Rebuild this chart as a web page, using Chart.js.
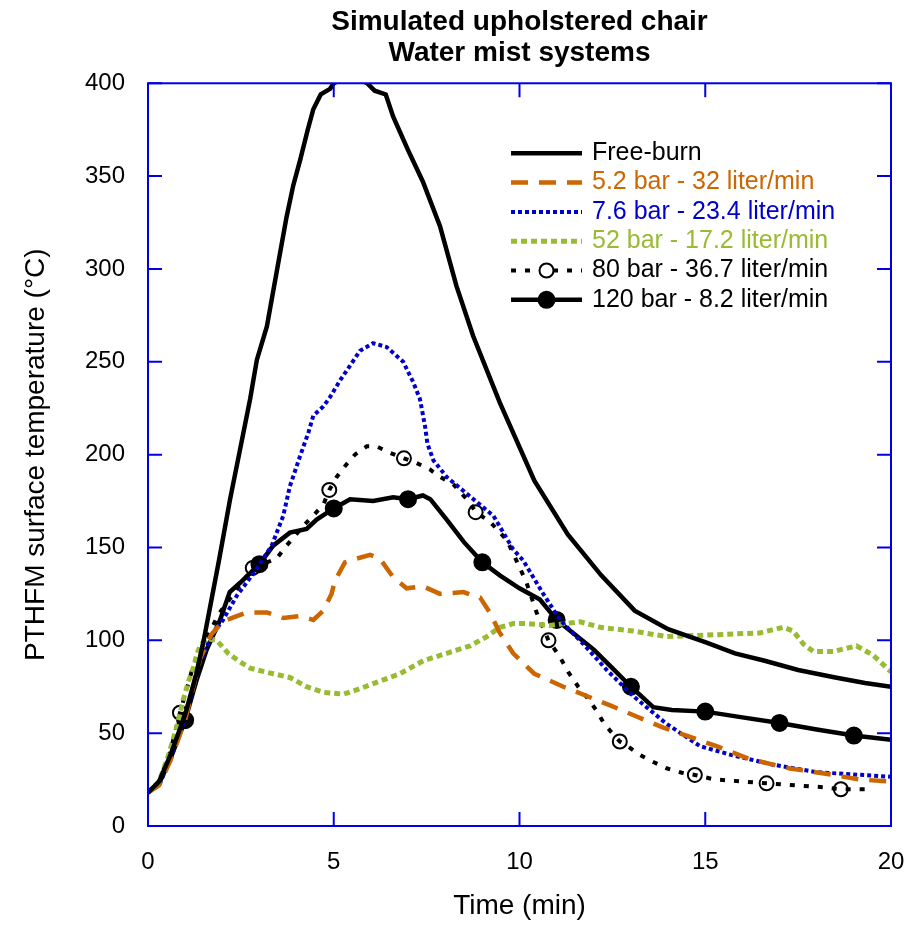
<!DOCTYPE html>
<html>
<head>
<meta charset="utf-8">
<title>Simulated upholstered chair - Water mist systems</title>
<script src="https://cdn.jsdelivr.net/npm/chart.js@4.4.1/dist/chart.umd.min.js"></script>
<style>
  html, body { margin: 0; padding: 0; background: #fff; }
  canvas { display: block; }
</style>
</head>
<body>
<canvas id="chart" width="915" height="926"></canvas>
<script>
// time in minutes, temperature in °C
const freeBurnTime = [0, 0.3, 0.6, 1.0, 1.3, 1.5, 1.71, 1.91, 2.21, 2.5, 2.75, 2.93, 3.2, 3.46, 3.73, 3.91, 4.1, 4.3, 4.45, 4.65, 4.9, 5.0, 5.3, 5.6, 5.9, 6.1, 6.4, 6.6, 7.0, 7.4, 7.86, 8.3, 8.75, 9.47, 10.4, 11.3, 12.2, 13.1, 14.0, 15.0, 15.8, 16.6, 17.5, 18.5, 19.3, 20];
const freeBurnTemp = [18, 24, 38, 60, 82, 100, 122, 143, 176, 205, 230, 251, 269, 298, 328, 345, 359, 375, 386, 394, 397, 400, 403, 403, 400, 396, 394, 382, 364, 347, 323, 291, 264, 228, 186, 157, 135, 116, 106, 99, 93, 89, 84, 80, 77, 75];

const bar5Time = [0, 0.3, 0.6, 1.0, 1.4, 1.7, 2.0, 2.39, 2.66, 3.2, 3.64, 4.09, 4.45, 4.72, 4.94, 5.03, 5.3, 5.62, 5.98, 6.24, 6.6, 6.96, 7.41, 7.86, 8.49, 8.76, 8.94, 9.2, 9.47, 9.83, 10.4, 11.18, 11.81, 12.44, 13.15, 13.87, 14.59, 15.3, 16.2, 17.28, 18.45, 19.17, 20];
const bar5Temp = [18, 22, 35, 57, 90, 103, 110, 113, 115, 115, 112, 113, 111, 116, 125, 132, 142, 144, 146, 144, 134, 128, 129, 125, 126, 124, 123, 115, 104, 93, 82, 75, 70, 65, 59, 53, 48, 43, 36, 31, 27.5, 25, 24];

const bar7Time = [0, 0.3, 0.6, 1.0, 1.4, 1.7, 2.02, 2.39, 2.84, 3.33, 3.64, 3.82, 4.09, 4.32, 4.45, 4.72, 4.9, 5.17, 5.44, 5.71, 6.06, 6.42, 6.87, 7.14, 7.32, 7.46, 7.52, 7.68, 8.04, 8.76, 9.3, 9.83, 10.1, 10.64, 11.09, 11.72, 12.35, 13.06, 13.96, 14.86, 15.75, 16.83, 18.0, 20];
const bar7Temp = [18, 22, 36, 58, 88, 102, 111, 124, 136, 151, 167, 183, 199, 212, 221, 226, 231, 240, 248, 256, 260, 258, 250, 239, 230, 215, 206, 197, 188, 176, 167, 149, 143, 125, 111, 98, 84, 70, 55, 43, 38, 33, 29, 26.5];

const bar52Time = [0, 0.3, 0.55, 0.77, 0.95, 1.09, 1.22, 1.31, 1.4, 1.58, 1.85, 2.16, 2.43, 2.75, 3.15, 3.37, 3.82, 4.27, 4.72, 5.26, 5.71, 6.24, 6.78, 7.41, 8.04, 8.67, 9.12, 9.47, 9.83, 10.2, 10.82, 11.63, 12.17, 13.06, 13.96, 15.3, 16.47, 17.1, 17.37, 17.64, 17.91, 18.45, 19.07, 19.52, 20];
const bar52Temp = [18, 24, 38, 53, 68, 78, 85, 92, 97, 101, 100, 93, 89, 85, 83, 82, 80, 75, 72, 71, 74, 78, 82, 89, 93, 97, 102, 107, 109, 109, 108, 110, 107, 105, 102, 103, 104, 107, 105, 98, 94, 94, 97, 92, 83];

const bar80Time = [0, 0.3, 0.6, 0.86, 1.2, 1.5, 1.9, 2.3, 2.82, 3.2, 3.46, 3.73, 4.2, 4.72, 4.88, 5.08, 5.35, 5.57, 5.89, 6.15, 6.51, 6.89, 7.23, 7.59, 7.86, 8.22, 8.67, 8.82, 9.2, 9.66, 10.01, 10.19, 10.46, 10.78, 11.09, 11.31, 11.58, 11.83, 12.06, 12.27, 12.46, 12.7, 12.93, 13.24, 13.62, 13.96, 14.37, 14.72, 15.22, 16.02, 16.65, 17.28, 18.18, 18.65, 19.5];
const bar80Temp = [18, 24, 40, 61, 85, 98, 114, 125, 139, 142, 144, 151, 162, 173, 181, 188, 195, 200, 204.5, 204.5, 201, 198, 195.5, 192, 188, 184, 174, 169, 164, 154, 139, 131, 115, 100, 91, 83, 75, 69, 62.5, 55.4, 50.8, 45.5, 42.7, 38.3, 34.3, 31.1, 28.7, 27.5, 25.2, 23.9, 23, 22.1, 20.9, 19.8, 19.8];
const bar80Marks = [0.86, 2.82, 4.88, 6.89, 8.82, 10.78, 12.7, 14.72, 16.65, 18.65];

const bar120Time = [0, 0.3, 0.6, 1, 1.3, 1.58, 1.94, 2.2, 2.48, 3, 3.37, 3.82, 4.27, 4.54, 5, 5.44, 6.06, 6.6, 7, 7.4, 7.6, 8.04, 8.5, 9, 9.47, 10, 10.55, 11, 11.5, 12, 12.5, 13, 13.6, 14.1, 15, 16, 17, 18, 19, 20];
const bar120Temp = [18, 23, 36, 57, 78, 95, 111, 126, 131, 141, 151, 158, 160, 165, 171, 176, 175, 177, 176, 178, 176, 165, 153, 142, 135, 128, 122, 111, 103, 95, 85, 75, 64, 62.5, 61.6, 58.5, 55.5, 52, 48.7, 46.4];
const bar120Marks = [1, 3, 5, 7, 9, 11, 13, 15, 17, 19];

const xTicks = [0, 5, 10, 15, 20];
const yTicks = [0, 50, 100, 150, 200, 250, 300, 350, 400];

const FONT = '"Liberation Sans", Arial, Helvetica, sans-serif';
const AXIS_BLUE = '#0000e6';

const toPoints = (ts, vs) => ts.map((t, i) => ({ x: t, y: vs[i] }));

function series(label, ts, vs, color, width, dash, marks, markFill, markRadius) {
    return {
        label: label,
        data: toPoints(ts, vs),
        borderColor: color,
        borderWidth: width,
        borderDash: dash,
        markTimes: marks || null,
        markRadius: markRadius || 0,
        pointRadius: ctx => (marks && marks.includes(ctx.raw.x)) ? markRadius : 0,
        pointHoverRadius: 0,
        pointBorderColor: '#000',
        pointBorderWidth: 2,
        pointBackgroundColor: markFill || '#000',
        tension: 0
    };
}

// box and inward tick marks on all four sides
const frame = {
    id: 'frame',
    afterDatasetsDraw(chart) {
        const { ctx, chartArea: a, scales } = chart;
        ctx.save();
        ctx.strokeStyle = AXIS_BLUE;
        ctx.lineWidth = 2;
        ctx.strokeRect(a.left, a.top, a.right - a.left, a.bottom - a.top);
        ctx.beginPath();
        xTicks.forEach(v => {
            const x = scales.x.getPixelForValue(v);
            ctx.moveTo(x, a.bottom); ctx.lineTo(x, a.bottom - 14);
            ctx.moveTo(x, a.top); ctx.lineTo(x, a.top + 14);
        });
        yTicks.forEach(v => {
            const y = scales.y.getPixelForValue(v);
            ctx.moveTo(a.left, y); ctx.lineTo(a.left + 14, y);
            ctx.moveTo(a.right, y); ctx.lineTo(a.right - 14, y);
        });
        ctx.stroke();
        ctx.restore();
    }
};

// legend inside the plot, text coloured like its line
const legendBox = {
    id: 'legendBox',
    afterDraw(chart) {
        const { ctx, chartArea: a } = chart;
        const x0 = a.left + 363, x1 = x0 + 71, tx = x1 + 10;
        let y = a.top + 70;
        chart.data.datasets.forEach(ds => {
            ctx.save();
            ctx.strokeStyle = ds.borderColor;
            ctx.lineWidth = ds.borderWidth;
            ctx.setLineDash(ds.borderDash || []);
            ctx.beginPath();
            ctx.moveTo(x0, y);
            ctx.lineTo(x1, y);
            ctx.stroke();
            ctx.setLineDash([]);
            if (ds.markTimes) {
                ctx.beginPath();
                ctx.arc((x0 + x1) / 2, y, ds.markRadius, 0, Math.PI * 2);
                ctx.fillStyle = ds.pointBackgroundColor === 'transparent' ? '#fff' : ds.pointBackgroundColor;
                ctx.fill();
                ctx.lineWidth = 2;
                ctx.strokeStyle = '#000';
                ctx.stroke();
            }
            ctx.fillStyle = ds.borderColor;
            ctx.font = '25px ' + FONT;
            ctx.textBaseline = 'middle';
            ctx.textAlign = 'left';
            ctx.fillText(ds.label, tx, y);
            ctx.restore();
            y += 29.3;
        });
    }
};

new Chart(document.getElementById('chart'), {
    type: 'line',
    data: {
        datasets: [
            series('Free-burn', freeBurnTime, freeBurnTemp, '#000000', 4.5, []),
            series('5.2 bar - 32 liter/min', bar5Time, bar5Temp, '#cc6600', 4.5, [17, 11]),
            series('7.6 bar - 23.4 liter/min', bar7Time, bar7Temp, '#0000cc', 4, [4, 3]),
            series('52 bar - 17.2 liter/min', bar52Time, bar52Temp, '#99bb33', 5, [6, 4]),
            series('80 bar - 36.7 liter/min', bar80Time, bar80Temp, '#000000', 4, [5, 9], bar80Marks, 'transparent', 7),
            series('120 bar - 8.2 liter/min', bar120Time, bar120Temp, '#000000', 4.5, [], bar120Marks, '#000000', 8)
        ]
    },
    options: {
        responsive: false,
        animation: false,
        events: [],
        devicePixelRatio: 1,
        layout: { padding: { left: 0, right: 24, top: 0, bottom: 0 } },
        plugins: {
            legend: { display: false },
            tooltip: { enabled: false },
            title: {
                display: true,
                fullSize: false,
                text: ['Simulated upholstered chair', 'Water mist systems'],
                color: '#000',
                font: { family: FONT, size: 28, weight: 'bold', lineHeight: 1.13 },
                padding: { top: 6, bottom: 14 }
            }
        },
        scales: {
            x: {
                type: 'linear',
                min: 0,
                max: 20,
                afterBuildTicks: s => { s.ticks = xTicks.map(v => ({ value: v })); },
                afterFit: s => { s.height = 100; s.paddingLeft = 0; s.paddingRight = 0; },
                grid: { display: false, drawTicks: false },
                border: { display: false },
                ticks: { color: '#000', padding: 22, font: { family: FONT, size: 24 } },
                title: {
                    display: true,
                    text: 'Time (min)',
                    color: '#000',
                    font: { family: FONT, size: 28 },
                    padding: { top: 0, bottom: 3 }
                }
            },
            y: {
                type: 'linear',
                min: 0,
                max: 400,
                afterBuildTicks: s => { s.ticks = yTicks.map(v => ({ value: v })); },
                afterFit: s => { s.width = 148; s.paddingTop = 0; s.paddingBottom = 0; },
                grid: { display: false, drawTicks: false },
                border: { display: false },
                ticks: { color: '#000', padding: 23, font: { family: FONT, size: 24 } },
                title: {
                    display: true,
                    text: 'PTHFM surface temperature (°C)',
                    color: '#000',
                    font: { family: FONT, size: 28 },
                    padding: { top: 19, bottom: 0 }
                }
            }
        }
    },
    plugins: [frame, legendBox]
});
</script>
</body>
</html>
